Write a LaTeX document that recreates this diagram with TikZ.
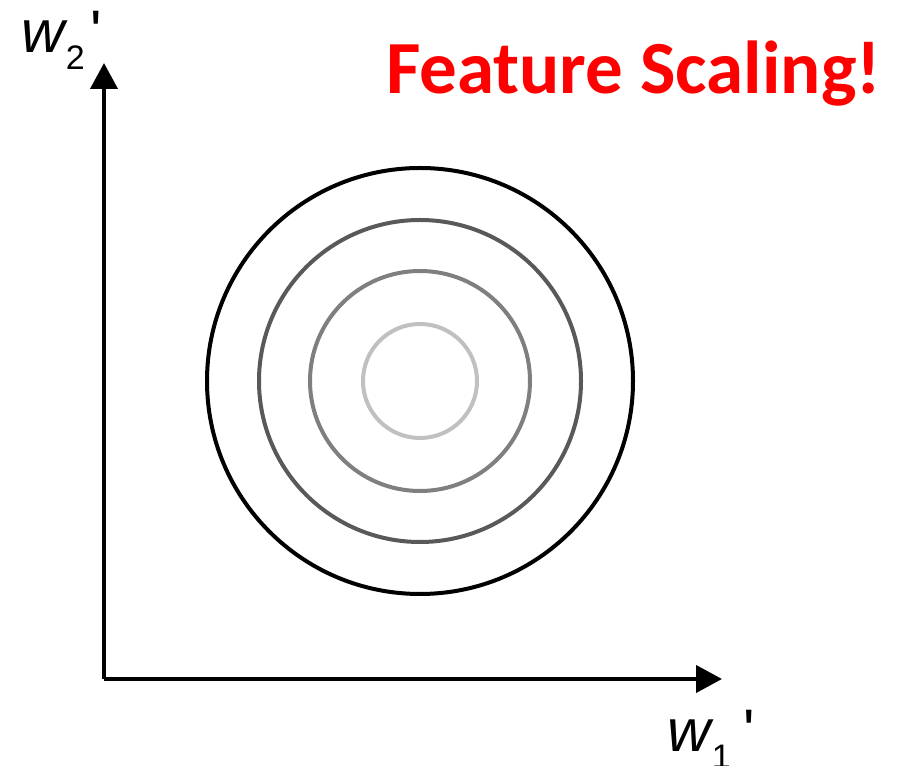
\documentclass[tikz,border=0pt]{standalone}
\usepackage{fontspec}
\setmainfont{Liberation Sans}
\newfontfamily\fsLabelFont{Liberation Sans}
\newfontfamily\fsTitleFont{Carlito}
\usetikzlibrary{arrows.meta}
\definecolor{fsRed}{HTML}{FF0000}
\definecolor{fsRingA}{HTML}{000000}
\definecolor{fsRingB}{HTML}{595959}
\definecolor{fsRingC}{HTML}{7F7F7F}
\definecolor{fsRingD}{HTML}{C0C0C0}
\tikzset{
  fs axis/.style={draw=black, line width=4bp, -{Triangle[length=26bp, width=27bp]}},
  fs ring/.style={line width=4bp},
  fs label/.style={font=\fsLabelFont\fontsize{60bp}{60bp}\selectfont, inner sep=0pt, anchor=base west},
  fs sub/.style={font=\fsLabelFont\fontsize{34bp}{34bp}\selectfont, inner sep=0pt, anchor=base west},
  fs title/.style={font=\fsTitleFont\bfseries\fontsize{75bp}{75bp}\selectfont, text=fsRed, inner sep=0pt, anchor=base west},
}

\begin{document}
\begin{tikzpicture}[x=1bp, y=1bp]
  \useasboundingbox (0,0) rectangle (897,766);
  % Axes
  \coordinate (origin) at (104,87);
  \coordinate (w1end) at (722,87);
  \coordinate (w2end) at (104,703);
  \draw[fs axis] (origin) -- (w1end);
  \draw[fs axis] (origin) -- (w2end);
  % Contour rings, darker outward
  \coordinate (ctr) at (420,385);
  \foreach \r/\c in {213/fsRingA, 161/fsRingB, 110/fsRingC, 57/fsRingD} {
    \draw[fs ring, draw=\c] (ctr) circle[radius=\r];
  }
  % Axis labels
  \node[fs label] (w2) at (21,713) {\itshape w};
  \node[fs sub] (w2sub) at ([xshift=1bp, yshift=-17bp]w2.base east) {2};
  \node[fs label] (w2prime) at ([xshift=5bp]w2sub.base east |- w2.base) {\textquotesingle};
  \node[fs label] (w1) at (667,14) {\itshape w};
  \node[fs sub] (w1sub) at ([xshift=1bp, yshift=-17bp]w1.base east) {1};
  \node[fs label] (w1prime) at ([xshift=12bp]w1sub.base east |- w1.base) {\textquotesingle};
  % Title
  \node[fs title] (title) at (386,672) {Feature Scaling!};
\end{tikzpicture}
\end{document}
